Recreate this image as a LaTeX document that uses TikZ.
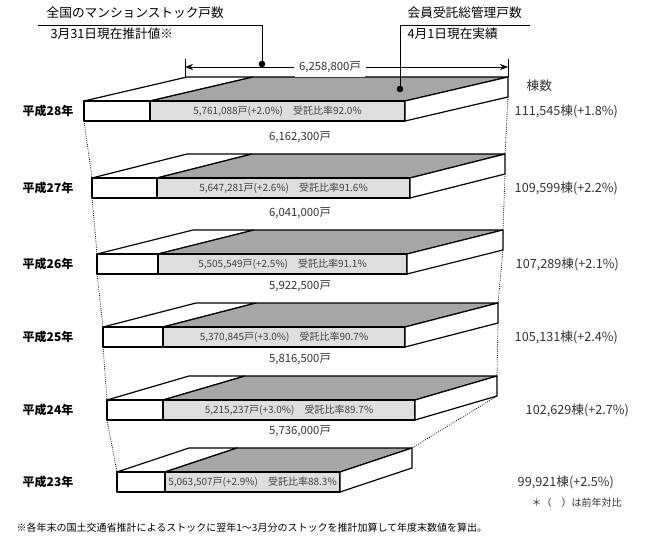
\documentclass[tikz,border=0pt]{standalone}
\usepackage{fontspec}
\setmainfont{Noto Sans CJK JP}
\usetikzlibrary{positioning,arrows.meta}
\begin{document}
\begin{tikzpicture}[x=0.75pt,y=-0.75pt,
  slabline/.style={draw=black,line width=0.9pt,line join=round},
  topgray/.style={slabline,fill=black!35},
  frontgray/.style={slabline,fill=black!13},
  total/.style={font=\fontsize{8.5}{10}\selectfont,text=black!80},
  inner/.style={font=\fontsize{7.5}{9}\selectfont,text=black!75},
  year/.style={font=\bfseries\fontsize{9}{10}\selectfont,anchor=west},
  count/.style={font=\fontsize{9.5}{11}\selectfont,text=black!80,anchor=west},
  funnel/.style={densely dotted,line width=0.6pt}]
  \useasboundingbox (0,0) rectangle (655,545);

  % slabs: L / W / R / dx / T / year / total / inner text / count / count x
  \foreach \L/\W/\R/\dx/\T/\yr/\tot/\inn/\cnt/\cx [count=\i] in {
    84/150/405/103/101/28/{6,258,800}/{5,761,088戸(+2.0\%)　受託比率92.0\%}/{111,545棟(+1.8\%)}/510,
    92/157/410/95/178/27/{6,162,300}/{5,647,281戸(+2.6\%)　受託比率91.6\%}/{109,599棟(+2.2\%)}/510,
    97/158/407/96/254/26/{6,041,000}/{5,505,549戸(+2.5\%)　受託比率91.1\%}/{107,289棟(+2.1\%)}/511,
    103/163/405/93/327/25/{5,922,500}/{5,370,845戸(+3.0\%)　受託比率90.7\%}/{105,131棟(+2.4\%)}/510,
    107/163/415/82/400/24/{5,816,500}/{5,215,237戸(+3.0\%)　受託比率89.7\%}/{102,629棟(+2.7\%)}/521,
    117/165/340/72/472/23/{5,736,000}/{5,063,507戸(+2.9\%)　受託比率88.3\%}/{99,921棟(+2.5\%)}/513} {
    \pgfmathsetmacro{\B}{\T-24}
    \pgfmathsetmacro{\F}{\T+20}
    % top face
    \draw[slabline,fill=white] (\L,\T) -- (\L+\dx,\B) -- (\W+\dx,\B) -- (\W,\T) -- cycle;
    \draw[topgray] (\W,\T) -- (\W+\dx,\B) -- (\R+\dx,\B) -- (\R,\T) -- cycle;
    % front and side faces
    \draw[slabline,fill=white] (\L,\T) rectangle (\W,\F);
    \draw[frontgray] (\W,\T) rectangle (\R,\F);
    \draw[slabline,fill=white] (\R,\T) -- (\R+\dx,\B) -- (\R+\dx,\B+20) -- (\R,\F) -- cycle;
    \node[inner] (inner\i) at ({(\W+\R)/2},\T+10) {\inn};
    \node[year] (year\i) at (18,\T+10) {平成\yr 年};
    \node[count] (count\i) at (\cx,\T+10) {\cnt};
    \coordinate (fl\i) at (\L,\F);
    \coordinate (flt\i) at (\L,\T);
    \coordinate (br\i) at (\R+\dx,\B+20);
    \coordinate (brt\i) at (\R+\dx,\B);
    \ifnum\i>1
      \node[total] (total\i) at (300,\B-17) {\tot 戸};
    \else
      \node[total,fill=white] (total\i) at (330,\B-10) {\tot 戸};
      \coordinate (ta) at (185,\B-10);
      \coordinate (tb) at (\R+\dx,\B-10);
      \draw[-{Stealth[length=6pt]}] (total\i) -- (ta);
      \draw[-{Stealth[length=6pt]}] (total\i) -- (tb);
      \draw (185,\B-18) -- (185,\B);
      \draw (\R+\dx,\B-18) -- (\R+\dx,\B);
    \fi
  }
  % funnel
  \foreach \i/\j in {1/2,2/3,3/4,4/5,5/6} {
    \draw[funnel] (fl\i) -- (flt\j);
    \draw[funnel] (br\i) -- (brt\j);
  }

  % callouts
  \node[anchor=west,font=\fontsize{9.5}{11}\selectfont] (stockhead) at (42,13) {全国のマンションストック戸数};
  \node[anchor=west,font=\fontsize{9.5}{11}\selectfont] (stocksub) at (46,34) {3月31日現在推計値※};
  \node[anchor=west,font=\fontsize{9.5}{11}\selectfont] (memberhead) at (403,13) {会員受託総管理戸数};
  \node[anchor=west,font=\fontsize{9.5}{11}\selectfont] (membersub) at (403,34) {4月1日現在実績};
  \coordinate (dotA) at (262,64);
  \coordinate (dotB) at (400,89);
  \draw (38,25) -| (dotA);
  \draw (530,25) -| (dotB);
  \fill (dotA) circle (3.3);
  \fill (dotB) circle (3.3);

  \node[count] (tousu) at (522,86) {棟数};
  \node[count,font=\fontsize{7.5}{9}\selectfont] (note) at (527,503) {＊（　）は前年対比};
  \node[anchor=west,font=\fontsize{7.5}{9}\selectfont] (foot) at (12,528) {※各年末の国土交通省推計によるストックに翌年1～3月分のストックを推計加算して年度末数値を算出。};
\end{tikzpicture}
\end{document}
